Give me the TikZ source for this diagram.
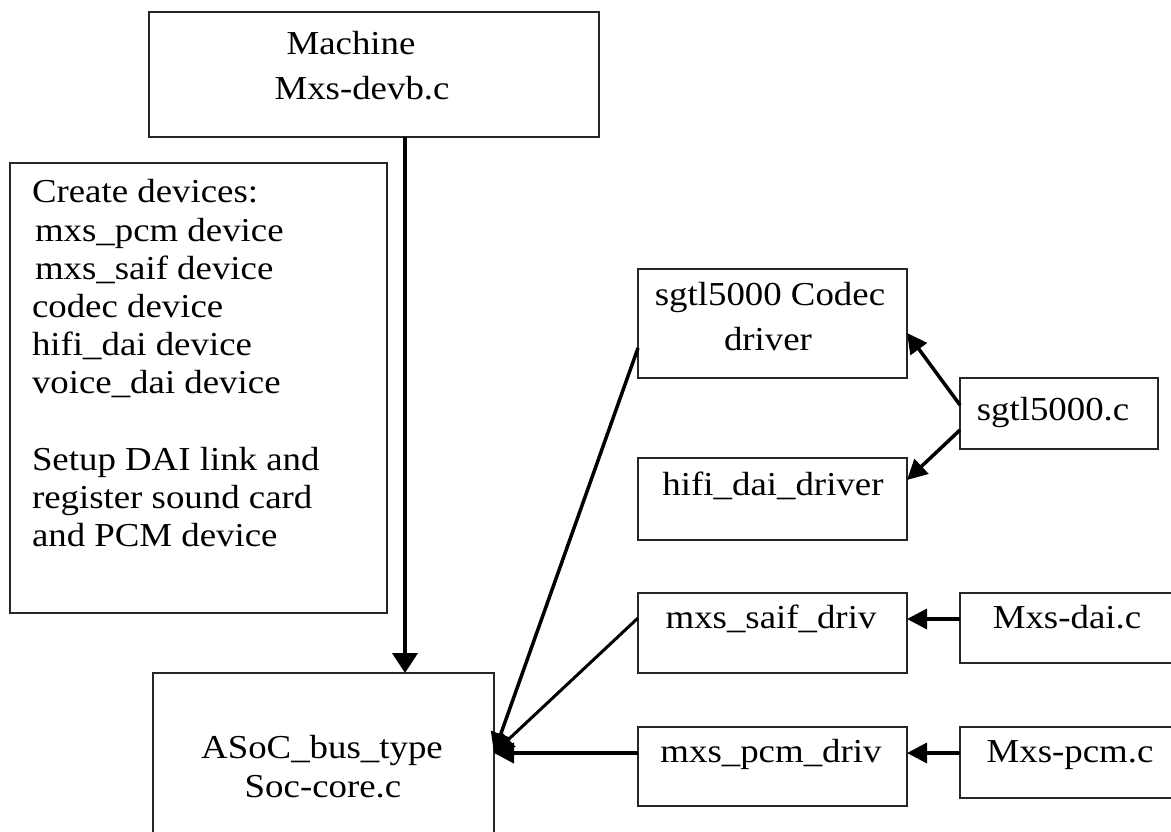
\documentclass[tikz,border=0pt]{standalone}
\usepackage{fontspec}
\setmainfont{Liberation Serif}[FakeStretch=1.1]
\usetikzlibrary{arrows.meta,calc}
\tikzset{
  bx/.style={draw=black!85, line width=1.5pt, fill=white, outer sep=0pt, inner sep=0pt, anchor=north west},
  txt/.style={inner sep=0pt, outer sep=0pt, text=black},
  conn/.style={line width=3.5pt, -{Triangle[length=20pt,width=20pt]}},
}
\begin{document}
\begin{tikzpicture}[x=1pt,y=-1pt,font=\fontsize{33.5}{38}\selectfont]
\useasboundingbox (0,0) rectangle (1171,832);
\clip (0,0) rectangle (1171,832);
\fill[white] (0,0) rectangle (1171,832);
% boxes
\node[bx, minimum width=450pt, minimum height=125pt] (machine) at (149,12) {};
\node[bx, minimum width=377pt, minimum height=450pt] (create) at (10,163) {};
\node[bx, minimum width=341pt, minimum height=190pt] (asoc) at (153,673) {};
\node[bx, minimum width=269pt, minimum height=109pt] (codec) at (638,269) {};
\node[bx, minimum width=198pt, minimum height=71pt] (sgtl) at (960,378) {};
\node[bx, minimum width=269pt, minimum height=82pt] (hifi) at (638,458) {};
\node[bx, minimum width=269pt, minimum height=80pt] (saif) at (638,593) {};
\node[bx, minimum width=230pt, minimum height=70pt] (dai) at (960,593) {};
\node[bx, minimum width=269pt, minimum height=79pt] (pcm) at (638,727) {};
\node[bx, minimum width=230pt, minimum height=71pt] (mpcm) at (960,727) {};
% texts
\node[txt, anchor=base] (tm1) at (351,55) {Machine};
\node[txt, anchor=base] (tm2) at (362,100) {Mxs-devb.c};
\node[txt, anchor=base west] (tc1) at (32,203) {Create devices:};
\node[txt, anchor=base west] (tc2) at (35,241) {mxs\_pcm device};
\node[txt, anchor=base west] (tc3) at (35,279) {mxs\_saif device};
\node[txt, anchor=base west] (tc4) at (32,317) {codec device};
\node[txt, anchor=base west] (tc5) at (32,355) {hifi\_dai device};
\node[txt, anchor=base west] (tc6) at (32,393) {voice\_dai device};
\node[txt, anchor=base west] (tc7) at (32,470) {Setup DAI link and};
\node[txt, anchor=base west] (tc8) at (32,508) {register sound card};
\node[txt, anchor=base west] (tc9) at (32,546) {and PCM device};
\node[txt, anchor=base] (ta1) at (322,758) {ASoC\_bus\_type};
\node[txt, anchor=base] (ta2) at (323,797) {Soc-core.c};
\node[txt, anchor=base] (tg1) at (770,305) {sgtl5000 Codec};
\node[txt, anchor=base] (tg2) at (768,350) {driver};
\node[txt, anchor=base] (ts) at (1053,420) {sgtl5000.c};
\node[txt, anchor=base] (th) at (773,495) {hifi\_dai\_driver};
\node[txt, anchor=base] (tsa) at (771,628) {mxs\_saif\_driv};
\node[txt, anchor=base] (tda) at (1067,628) {Mxs-dai.c};
\node[txt, anchor=base] (tpc) at (771,762) {mxs\_pcm\_driv};
\node[txt, anchor=base] (tmp) at (1070,762) {Mxs-pcm.c};
% connectors
\coordinate (vx) at (405,0);
\draw[conn, line width=4pt, -{Triangle[length=20pt,width=25pt]}] (machine.south -| vx) -- (asoc.north -| vx);
\draw[conn] ([yshift=-79pt]codec.north west) -- ([yshift=-80pt]asoc.north east);
\draw[conn, line width=3pt] ([yshift=-25pt]saif.north west) -- ([yshift=-80pt]asoc.north east);
\draw[conn, line width=4pt] ([yshift=-26pt]pcm.north west) -- ([yshift=-80pt]asoc.north east);
\draw[conn] ([yshift=-27pt]sgtl.north west) -- ([yshift=-64pt]codec.north east);
\draw[conn] ([yshift=-52pt]sgtl.north west) -- ([yshift=-22pt]hifi.north east);
\draw[conn] ([yshift=-26pt]dai.north west) -- ([yshift=-26pt]saif.north east);
\draw[conn] ([yshift=-26pt]mpcm.north west) -- ([yshift=-26pt]pcm.north east);
\end{tikzpicture}
\end{document}
